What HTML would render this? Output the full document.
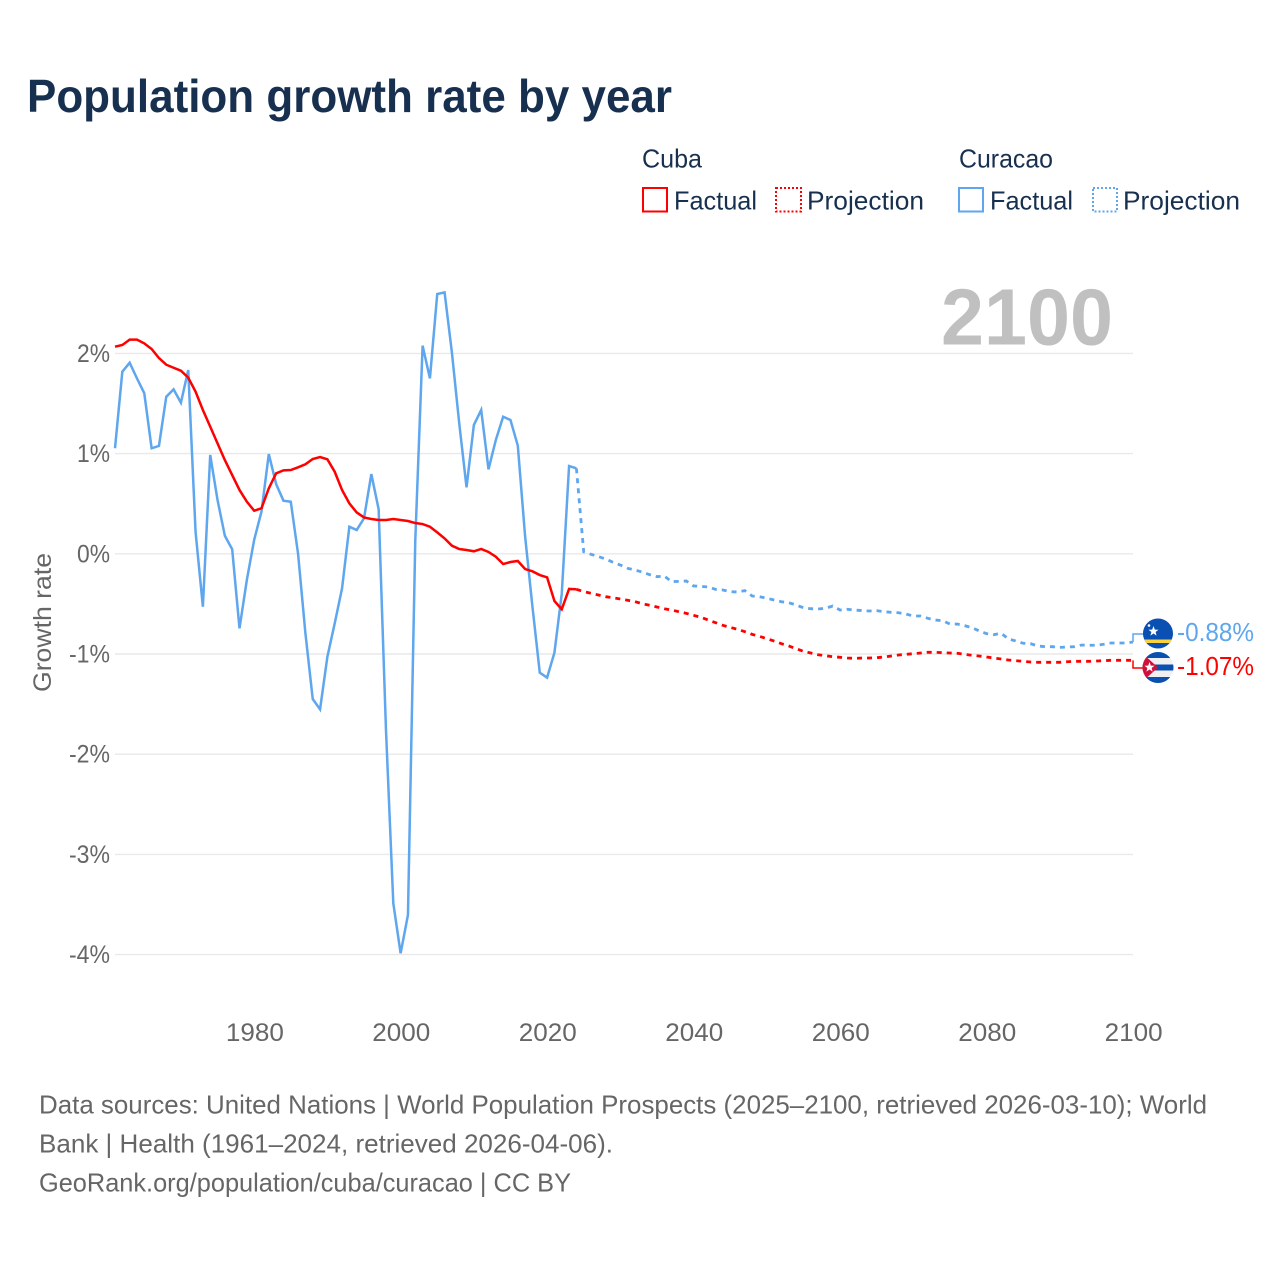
<!DOCTYPE html>
<html lang="en">
<head>
<meta charset="utf-8">
<title>Population growth rate by year</title>
<style>
html,body{margin:0;padding:0;background:#fff;}
svg{display:block;font-family:"Liberation Sans",sans-serif;}
</style>
</head>
<body>
<svg id="chart" xmlns="http://www.w3.org/2000/svg" width="1280" height="1280" viewBox="0 0 1280 1280">
  <rect x="0" y="0" width="1280" height="1280" fill="#ffffff"/>
  <text x="27" y="112" font-size="46" font-weight="700" fill="#18304f" textLength="645" lengthAdjust="spacingAndGlyphs">Population growth rate by year</text>

  <g fill="#18304f" font-size="26">
    <text x="642" y="167.5" textLength="60" lengthAdjust="spacingAndGlyphs">Cuba</text>
    <rect x="643" y="188" width="24" height="23.5" fill="none" stroke="#ff0000" stroke-width="2"/>
    <text x="674" y="209.5" textLength="83" lengthAdjust="spacingAndGlyphs">Factual</text>
    <rect x="776" y="188" width="25" height="23.5" fill="none" stroke="#ff0000" stroke-width="2" stroke-dasharray="2 2"/>
    <text x="807" y="209.5" textLength="117" lengthAdjust="spacingAndGlyphs">Projection</text>
    <text x="959" y="167.5" textLength="94" lengthAdjust="spacingAndGlyphs">Curacao</text>
    <rect x="959" y="188" width="24" height="23.5" fill="none" stroke="#5ea6ee" stroke-width="2"/>
    <text x="990" y="209.5" textLength="83" lengthAdjust="spacingAndGlyphs">Factual</text>
    <rect x="1093" y="188" width="24" height="23.5" fill="none" stroke="#5ea6ee" stroke-width="2" stroke-dasharray="2 2"/>
    <text x="1123" y="209.5" textLength="117" lengthAdjust="spacingAndGlyphs">Projection</text>
  </g>

  <text x="941" y="344.5" font-size="80" font-weight="700" fill="#c0c0c0" textLength="172" lengthAdjust="spacingAndGlyphs">2100</text>
  <text transform="translate(51,692) rotate(-90)" font-size="25" fill="#666666" textLength="139" lengthAdjust="spacingAndGlyphs">Growth rate</text>

  <g id="grid"></g>
  <g id="yticks"></g>
  <g id="xticks"></g>
  <g id="series"></g>

  <defs>
    <clipPath id="clip-curacao"><circle cx="1158" cy="633.5" r="15"/></clipPath>
    <clipPath id="clip-cuba"><circle cx="1158" cy="667.5" r="15.5"/></clipPath>
  </defs>

  <g clip-path="url(#clip-curacao)">
    <rect x="1142" y="618" width="32" height="32" fill="#0a4fb2"/>
    <rect x="1142" y="639.5" width="32" height="3.5" fill="#f9d23c"/>
    <polygon points="1153.5,626 1154.8,629.6 1158.5,629.7 1155.6,632 1156.6,635.6 1153.5,633.5 1150.4,635.6 1151.4,632 1148.5,629.7 1152.2,629.6" fill="#ffffff"/>
    <circle cx="1149" cy="625.5" r="1.3" fill="#ffffff"/>
  </g>
  <g clip-path="url(#clip-cuba)">
    <rect x="1142" y="652" width="32" height="32" fill="#f0f0f0"/>
    <rect x="1142" y="652" width="32" height="6" fill="#0a4fb2"/>
    <rect x="1142" y="664.5" width="32" height="6" fill="#0a4fb2"/>
    <rect x="1142" y="677" width="32" height="7" fill="#0a4fb2"/>
    <polygon points="1142,653 1158,667.5 1142,682" fill="#d0103a"/>
    <polygon points="1149.5,662 1150.8,665.6 1154.5,665.7 1151.6,668 1152.6,671.6 1149.5,669.5 1146.4,671.6 1147.4,668 1144.5,665.7 1148.2,665.6" fill="#ffffff"/>
  </g>

  <text x="1177" y="641" font-size="26" fill="#5ea6ee" textLength="77" lengthAdjust="spacingAndGlyphs">-0.88%</text>
  <text x="1177" y="675" font-size="26" fill="#ff0000" textLength="77" lengthAdjust="spacingAndGlyphs">-1.07%</text>

  <g fill="#666666" font-size="26">
    <text x="39" y="1113.5" textLength="1168" lengthAdjust="spacingAndGlyphs">Data sources: United Nations | World Population Prospects (2025–2100, retrieved 2026-03-10); World</text>
    <text x="39" y="1152.5" textLength="574" lengthAdjust="spacingAndGlyphs">Bank | Health (1961–2024, retrieved 2026-04-06).</text>
    <text x="39" y="1191.5" textLength="532" lengthAdjust="spacingAndGlyphs">GeoRank.org/population/cuba/curacao | CC BY</text>
  </g>
</svg>

<script>
const yTickValues = [2, 1, 0, -1, -2, -3, -4];
const xTickYears = [1980, 2000, 2020, 2040, 2060, 2080, 2100];
const factualStartYear = 1961;
const projectionStartYear = 2024;

const cubaFactual = [2.067,2.084,2.137,2.137,2.10,2.044,1.954,1.887,1.857,1.827,1.758,1.618,1.435,1.269,1.102,0.935,0.786,0.637,0.520,0.430,0.454,0.653,0.803,0.833,0.836,0.863,0.893,0.946,0.966,0.943,0.819,0.637,0.503,0.413,0.363,0.347,0.337,0.337,0.347,0.337,0.327,0.307,0.297,0.270,0.214,0.154,0.081,0.048,0.038,0.025,0.048,0.018,-0.029,-0.102,-0.082,-0.072,-0.152,-0.175,-0.212,-0.235,-0.471,-0.554,-0.351,-0.354];

const curacaoFactual = [1.053,1.817,1.907,1.751,1.602,1.053,1.076,1.568,1.641,1.508,1.834,0.22,-0.528,0.987,0.537,0.18,0.045,-0.744,-0.262,0.138,0.421,0.996,0.696,0.530,0.520,-0.002,-0.794,-1.449,-1.552,-1.027,-0.694,-0.345,0.270,0.237,0.354,0.796,0.444,-1.758,-3.488,-3.987,-3.605,0.13,2.077,1.751,2.593,2.609,2.01,1.303,0.663,1.285,1.435,0.843,1.136,1.368,1.335,1.079,0.171,-0.528,-1.186,-1.236,-0.987,-0.40,0.876,0.853];

const cubaProjection = [-0.354,-0.378,-0.394,-0.411,-0.428,-0.438,-0.451,-0.464,-0.478,-0.498,-0.514,-0.531,-0.548,-0.561,-0.578,-0.594,-0.614,-0.634,-0.661,-0.687,-0.714,-0.734,-0.754,-0.777,-0.804,-0.824,-0.847,-0.871,-0.897,-0.920,-0.947,-0.974,-0.990,-1.007,-1.017,-1.027,-1.033,-1.040,-1.043,-1.040,-1.040,-1.037,-1.030,-1.020,-1.010,-1.003,-0.997,-0.990,-0.983,-0.983,-0.987,-0.990,-0.993,-1.003,-1.013,-1.020,-1.030,-1.040,-1.050,-1.060,-1.067,-1.073,-1.080,-1.083,-1.083,-1.083,-1.083,-1.077,-1.073,-1.073,-1.073,-1.070,-1.067,-1.063,-1.063,-1.063,-1.063];

const curacaoProjection = [0.853,0.02,-0.005,-0.028,-0.052,-0.085,-0.112,-0.145,-0.162,-0.182,-0.208,-0.228,-0.222,-0.278,-0.275,-0.271,-0.321,-0.325,-0.331,-0.355,-0.361,-0.378,-0.381,-0.368,-0.421,-0.428,-0.444,-0.461,-0.478,-0.488,-0.511,-0.538,-0.548,-0.551,-0.544,-0.521,-0.561,-0.554,-0.561,-0.567,-0.571,-0.567,-0.578,-0.584,-0.588,-0.601,-0.621,-0.621,-0.644,-0.661,-0.667,-0.701,-0.701,-0.717,-0.737,-0.770,-0.797,-0.807,-0.793,-0.850,-0.870,-0.893,-0.897,-0.920,-0.927,-0.927,-0.934,-0.930,-0.927,-0.910,-0.913,-0.913,-0.903,-0.890,-0.890,-0.890,-0.880];

const NS = 'http://www.w3.org/2000/svg';
const plotLeft = 115, plotRight = 1133;
function xScale(year) { return plotLeft + (year - 1961) * (plotRight - plotLeft) / (2100 - 1961); }
function yScale(value) { return 553.8 - value * 100.2; }
function linePath(values, startYear) {
  return values.map(function (v, i) {
    return (i ? 'L' : 'M') + xScale(startYear + i).toFixed(2) + ' ' + yScale(v).toFixed(2);
  }).join(' ');
}

const grid = document.getElementById('grid');
const yticks = document.getElementById('yticks');
yTickValues.forEach(function (v) {
  const line = document.createElementNS(NS, 'line');
  
  
  line.setAttribute('x1', plotLeft);
  line.setAttribute('x2', plotRight);
  line.setAttribute('y1', yScale(v));
  line.setAttribute('y2', yScale(v));
  line.setAttribute('stroke', '#e9e9e9');
  line.setAttribute('stroke-width', '1.4');
  grid.appendChild(line);

  const label = document.createElementNS(NS, 'text');
  
  
  label.setAttribute('x', 110);
  label.setAttribute('y', yScale(v) + 8.5);
  label.setAttribute('text-anchor', 'end');
  label.setAttribute('font-size', '25');
  label.setAttribute('fill', '#666666');
  label.setAttribute('textLength', v < 0 ? '41' : '33');
  label.setAttribute('lengthAdjust', 'spacingAndGlyphs');
  label.textContent = v + '%';
  yticks.appendChild(label);
});

const xticks = document.getElementById('xticks');
xTickYears.forEach(function (year) {
  const label = document.createElementNS(NS, 'text');
  
  
  label.setAttribute('x', xScale(year) + 0.7);
  label.setAttribute('y', 1041);
  label.setAttribute('text-anchor', 'middle');
  label.setAttribute('font-size', '25');
  label.setAttribute('fill', '#666666');
  label.setAttribute('textLength', '58');
  label.setAttribute('lengthAdjust', 'spacingAndGlyphs');
  label.textContent = year;
  xticks.appendChild(label);
});

const seriesGroup = document.getElementById('series');

const curacaoFactualLine = document.createElementNS(NS, 'path');


curacaoFactualLine.setAttribute('d', linePath(curacaoFactual, factualStartYear));
curacaoFactualLine.setAttribute('fill', 'none');
curacaoFactualLine.setAttribute('stroke', '#5ea6ee');
curacaoFactualLine.setAttribute('stroke-width', '2.5');
seriesGroup.appendChild(curacaoFactualLine);

const cubaFactualLine = document.createElementNS(NS, 'path');


cubaFactualLine.setAttribute('d', linePath(cubaFactual, factualStartYear));
cubaFactualLine.setAttribute('fill', 'none');
cubaFactualLine.setAttribute('stroke', '#ff0000');
cubaFactualLine.setAttribute('stroke-width', '2.5');
seriesGroup.appendChild(cubaFactualLine);

const curacaoProjectionLine = document.createElementNS(NS, 'path');


curacaoProjectionLine.setAttribute('d', linePath(curacaoProjection, projectionStartYear));
curacaoProjectionLine.setAttribute('fill', 'none');
curacaoProjectionLine.setAttribute('stroke', '#5ea6ee');
curacaoProjectionLine.setAttribute('stroke-width', '2.8');
curacaoProjectionLine.setAttribute('stroke-dasharray', '5 5');
seriesGroup.appendChild(curacaoProjectionLine);

const cubaProjectionLine = document.createElementNS(NS, 'path');


cubaProjectionLine.setAttribute('d', linePath(cubaProjection, projectionStartYear));
cubaProjectionLine.setAttribute('fill', 'none');
cubaProjectionLine.setAttribute('stroke', '#ff0000');
cubaProjectionLine.setAttribute('stroke-width', '2.8');
cubaProjectionLine.setAttribute('stroke-dasharray', '5 5');
seriesGroup.appendChild(cubaProjectionLine);

const curacaoEnd = curacaoProjection[curacaoProjection.length - 1];
const curacaoConnector = document.createElementNS(NS, 'path');


curacaoConnector.setAttribute('d', 'M' + xScale(2100) + ' ' + yScale(curacaoEnd) + ' V634 H1144');
curacaoConnector.setAttribute('fill', 'none');
curacaoConnector.setAttribute('stroke', '#5ea6ee');
curacaoConnector.setAttribute('stroke-width', '1.5');
seriesGroup.appendChild(curacaoConnector);

const cubaEnd = cubaProjection[cubaProjection.length - 1];
const cubaConnector = document.createElementNS(NS, 'path');


cubaConnector.setAttribute('d', 'M' + xScale(2100) + ' ' + yScale(cubaEnd) + ' V668 H1144');
cubaConnector.setAttribute('fill', 'none');
cubaConnector.setAttribute('stroke', '#ff0000');
cubaConnector.setAttribute('stroke-width', '1.5');
seriesGroup.appendChild(cubaConnector);
</script>
</body>
</html>
